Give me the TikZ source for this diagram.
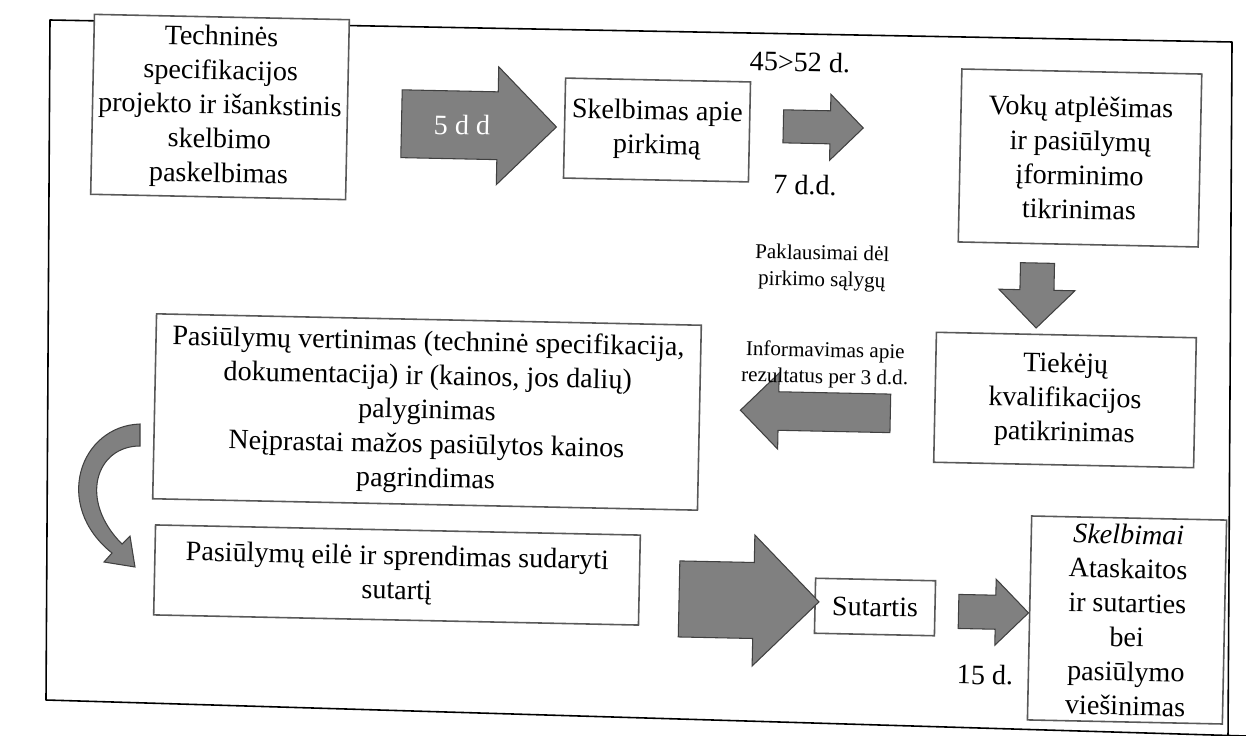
\documentclass[tikz,border=0pt]{standalone}
\usepackage{fontspec}
\setmainfont{Liberation Serif}
\usetikzlibrary{shapes.arrows}

\begin{document}
\begin{tikzpicture}[x=0.02cm,y=-0.02cm]
	\tikzstyle{box}=[rectangle,draw=black!65,fill=white,line width=0.9pt,align=center,inner sep=2pt,rotate=-1.2,font=\fontsize{16}{19.5}\selectfont]
	\tikzstyle{blockarrow}=[single arrow,draw=black!75,fill=black!50,line width=0.6pt,inner xsep=0pt,rotate=-1.2,text=white,font=\fontsize{16}{19}\selectfont]
	\tikzstyle{note}=[align=center,rotate=-1.2,font=\fontsize{12}{15}\selectfont]
	\tikzstyle{days}=[rotate=-1.2,font=\fontsize{16}{19}\selectfont]
	\useasboundingbox (0,0) rectangle (1246,736);
	\draw[line width=0.9pt,line join=round] (1228,736) -- (1232,42) -- (50,20) -- (46,700) -- (1246,736);
	% steps
	\node [box,minimum width=5.1cm,minimum height=3.6cm] (tech) at (220,107) {Techninės\\specifikacijos\\projekto ir išankstinis\\skelbimo\\paskelbimas};
	\node [box,minimum width=3.7cm,minimum height=2cm] (skelb) at (657,130) {Skelbimas apie\\pirkimą};
	\node [box,minimum width=4.8cm,minimum height=3.46cm] (vokai) at (1080,158) {Vokų atplėšimas\\ir pasiūlymų\\įforminimo\\tikrinimas};
	\node [box,minimum width=5.2cm,minimum height=2.6cm] (tiekeju) at (1065,400) {Tiekėjų\\kvalifikacijos\\patikrinimas};
	\node [box,minimum width=10.9cm,minimum height=3.7cm] (vertin) at (427,412) {Pasiūlymų vertinimas (techninė specifikacija,\\dokumentacija) ir (kainos, jos dalių)\\palyginimas\\Neįprastai mažos pasiūlytos kainos\\pagrindimas};
	\node [box,minimum width=9.7cm,minimum height=1.8cm] (eile) at (397,575) {Pasiūlymų eilė ir sprendimas sudaryti\\sutartį};
	\node [box,minimum width=2.4cm,minimum height=1.1cm] (sutartis) at (875,607) {Sutartis};
	\node [box,minimum width=3.9cm,minimum height=4.08cm] (viesin) at (1127,620) {\textit{Skelbimai}\\Ataskaitos\\ir sutarties\\bei\\pasiūlymo\\viešinimas};
	% arrows between steps
	\node [blockarrow,minimum height=3.1cm,minimum width=2.3cm,inner ysep=0.47cm,single arrow head extend=0.5cm] (a1) at (462,125) {5 d d\hspace{1.1cm}};
	\node [blockarrow,minimum height=1.6cm,minimum width=1.3cm,inner ysep=0.32cm,single arrow head extend=0.33cm] (a2) at (815,127) {};
	\node [blockarrow,minimum height=1.3cm,minimum width=1.5cm,inner xsep=0.33cm,inner ysep=0pt,single arrow head extend=0.42cm,shape border rotate=270] (a3) at (1037,287) {};
	\node [blockarrow,minimum height=3cm,minimum width=1.5cm,inner ysep=0.375cm,single arrow head extend=0.375cm,shape border rotate=180] (a4) at (825,412) {};
	\node [blockarrow,minimum height=2.8cm,minimum width=2.6cm,inner ysep=0.75cm,single arrow head extend=0.55cm] (a5) at (730,600) {};
	\node [blockarrow,minimum height=1.4cm,minimum width=1.3cm,inner ysep=0.33cm,single arrow head extend=0.32cm] (a6) at (985,612) {};
	\draw [draw=black!75,fill=black!50,line width=0.6pt] (140,424) .. controls (80,426) and (52,505) .. (112,553) -- (104,562) -- (135,567) -- (130,536) -- (122,544) .. controls (78,500) and (96,446) .. (140,446) -- cycle;
	% labels
	\node [days] (t1) at (800,62) {45>52 d.};
	\node [days] (t2) at (805,185) {7 d.d.};
	\node [note] (t3) at (822,268) {Paklausimai dėl\\pirkimo sąlygų};
	\node [note] (t4) at (825,365) {Informavimas apie\\rezultatus per 3 d.d.};
	\node [days] (t5) at (985,675) {15 d.};
\end{tikzpicture}
\end{document}
